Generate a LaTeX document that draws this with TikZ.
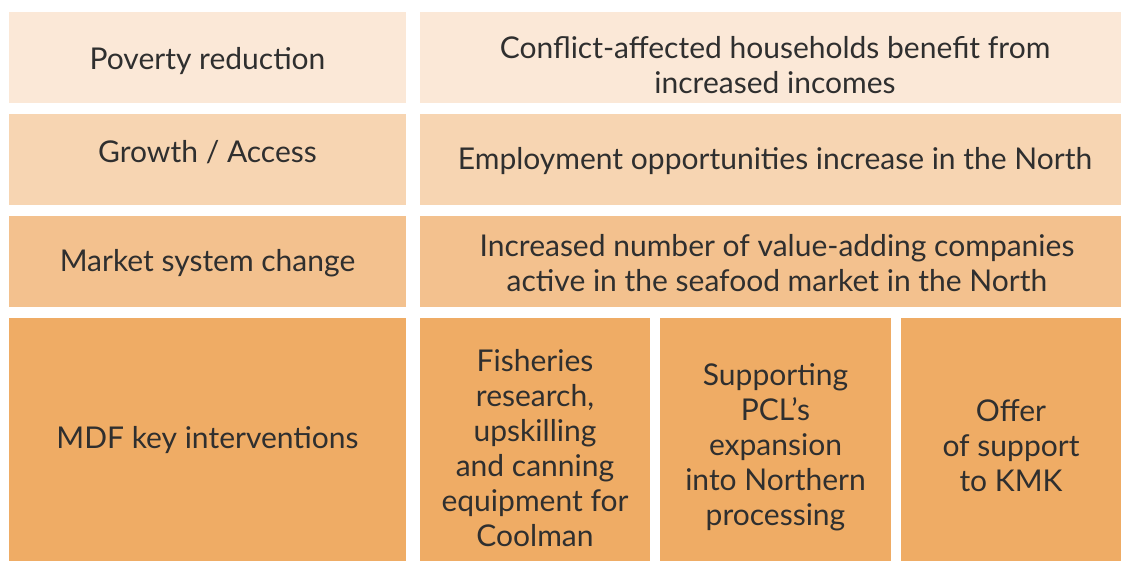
\documentclass[tikz,border=0pt]{standalone}
\usepackage{fontspec}
\setmainfont{Lato}
\definecolor{rowA}{RGB}{251,232,215}
\definecolor{rowB}{RGB}{247,213,178}
\definecolor{rowC}{RGB}{243,193,142}
\definecolor{rowD}{RGB}{239,172,101}
\definecolor{txt}{RGB}{47,47,47}
\tikzset{
  lbl/.style={text=txt, align=center, font=\fontsize{30}{35}\selectfont, inner sep=0pt}
}
\begin{document}
\begin{tikzpicture}[x=1pt,y=-1pt]
\useasboundingbox (0,0) rectangle (1121,561);
% row 1
\fill[rowA] (9,12) rectangle (406,102.7);
\fill[rowA] (420,12) rectangle (1121,102.7);
% row 2
\fill[rowB] (9,114) rectangle (406,204.7);
\fill[rowB] (420,114) rectangle (1121,204.7);
% row 3
\fill[rowC] (9,216) rectangle (406,306.7);
\fill[rowC] (420,216) rectangle (1121,306.7);
% row 4
\fill[rowD] (9,318) rectangle (406,561);
\fill[rowD] (420,318) rectangle (650,561);
\fill[rowD] (660,318) rectangle (891,561);
\fill[rowD] (901,318) rectangle (1121,561);
% labels
\node[lbl] (l1) at (207.5,61) {Poverty reduction};
\node[lbl] (l2) at (207.5,152) {Growth / Access};
\node[lbl] (l3) at (207.5,263) {Market system change};
\node[lbl] (l4) at (207.5,440) {MDF key interventions};
\node[lbl] (r1) at (775,65) {Conflict-affected households benefit from\\increased incomes};
\node[lbl] (r2) at (775,161) {Employment opportunities increase in the North};
\node[lbl] (r3) at (777,263) {Increased number of value-adding companies\\active in the seafood market in the North};
\node[lbl] (s1) at (535,448) {Fisheries\\research,\\upskilling\\and canning\\equipment for\\Coolman};
\node[lbl] (s2) at (775.5,447) {Supporting\\PCL’s\\expansion\\into Northern\\processing};
\node[lbl] (s3) at (1011,446) {Offer\\of support\\to KMK};
\end{tikzpicture}
\end{document}
